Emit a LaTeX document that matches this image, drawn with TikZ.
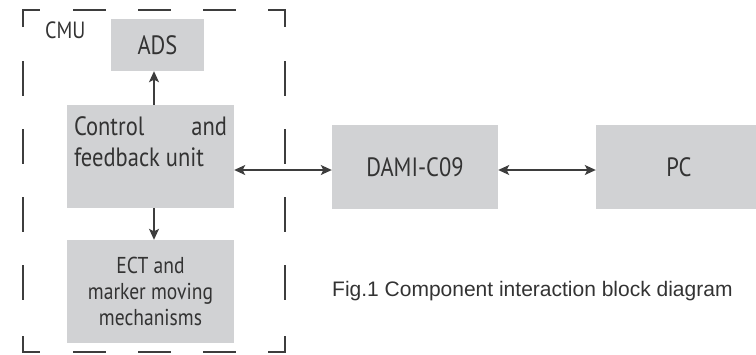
\documentclass[tikz,border=0pt]{standalone}
\usepackage{fontspec}
\setmainfont[FakeStretch=0.85]{PT Sans}
\newfontfamily\capfont{Liberation Sans}
\usetikzlibrary{arrows.meta,calc}
\definecolor{boxgray}{HTML}{D1D2D4}
\definecolor{linegray}{HTML}{3D3D3D}
\definecolor{txtgray}{HTML}{333333}
\begin{document}
\begin{tikzpicture}[x=1pt,y=-1pt,
  blk/.style={fill=boxgray, inner sep=0pt, text=txtgray},
  arr/.style={draw=linegray, line width=1.3pt, -{Stealth[length=11pt,width=10pt,inset=2.5pt]}},
  darr/.style={draw=linegray, line width=1.3pt, {Stealth[length=11pt,width=10pt,inset=2.5pt]}-{Stealth[length=11pt,width=10pt,inset=2.5pt]}},
  frame/.style={draw=linegray, line width=2pt}]
\useasboundingbox (0,0) rectangle (756,354);
\clip (0,0) rectangle (756,354);
% boxes
\node[blk, minimum width=93pt, minimum height=52pt, font=\fontsize{26.5}{31}\selectfont] (ads) at (157.5,45) {ADS};
\node[blk, minimum width=167pt, minimum height=103pt] (cfu) at (150.5,156.5)
  {\parbox[c][103pt][t]{153pt}{\fontsize{26.5}{31}\selectfont\vspace*{12pt}Control\hfill and\\feedback unit}};
\node[blk, minimum width=167pt, minimum height=103pt, align=center, font=\fontsize{23}{26}\selectfont] (ect) at (150.5,291.5) {ECT and\\marker moving\\mechanisms};
\node[blk, minimum width=166pt, minimum height=84pt, font=\fontsize{26.5}{31}\selectfont] (dami) at (415,167) {DAMI-C09};
\node[blk, minimum width=166pt, minimum height=84pt, font=\fontsize{26.5}{31}\selectfont] (pc) at (679,167) {PC};
% labels
\node[anchor=base west, inner sep=0pt, text=txtgray, font=\fontsize{23.5}{28}\selectfont] (cmu) at (45,38) {CMU};
\node[anchor=base west, inner sep=0pt, text=txtgray, font=\capfont\fontsize{21}{25}\selectfont] (cap) at (332,296) {Fig.1 Component interaction block diagram};
% dashed frame
\draw[frame] (23,27) -- (23,10) -- (40,10);
\draw[frame] (268,10) -- (285,10) -- (285,27);
\draw[frame] (23,336) -- (23,352) -- (40,352);
\draw[frame] (268,352) -- (285,352) -- (285,336);
\foreach \x in {73,138,203} {
  \draw[frame] (\x,10) -- ++(33,0);
  \draw[frame] (\x,352) -- ++(33,0);
}
\foreach \y in {61,129,197,265} {
  \draw[frame] (23,\y) -- ++(0,35);
  \draw[frame] (285,\y) -- ++(0,35);
}
% connectors
\draw[arr] ([xshift=3.5pt]cfu.north) -- ([xshift=3.5pt]cfu.north |- ads.south);
\draw[arr] ([xshift=3.5pt]cfu.south) -- ([xshift=3.5pt]cfu.south |- ect.north);
\draw[darr] ([yshift=-13.5pt]cfu.east) -- ([yshift=-13.5pt]cfu.east -| dami.west);
\draw[darr] ([yshift=-3pt]dami.east) -- ([yshift=-3pt]dami.east -| pc.west);
\end{tikzpicture}
\end{document}
